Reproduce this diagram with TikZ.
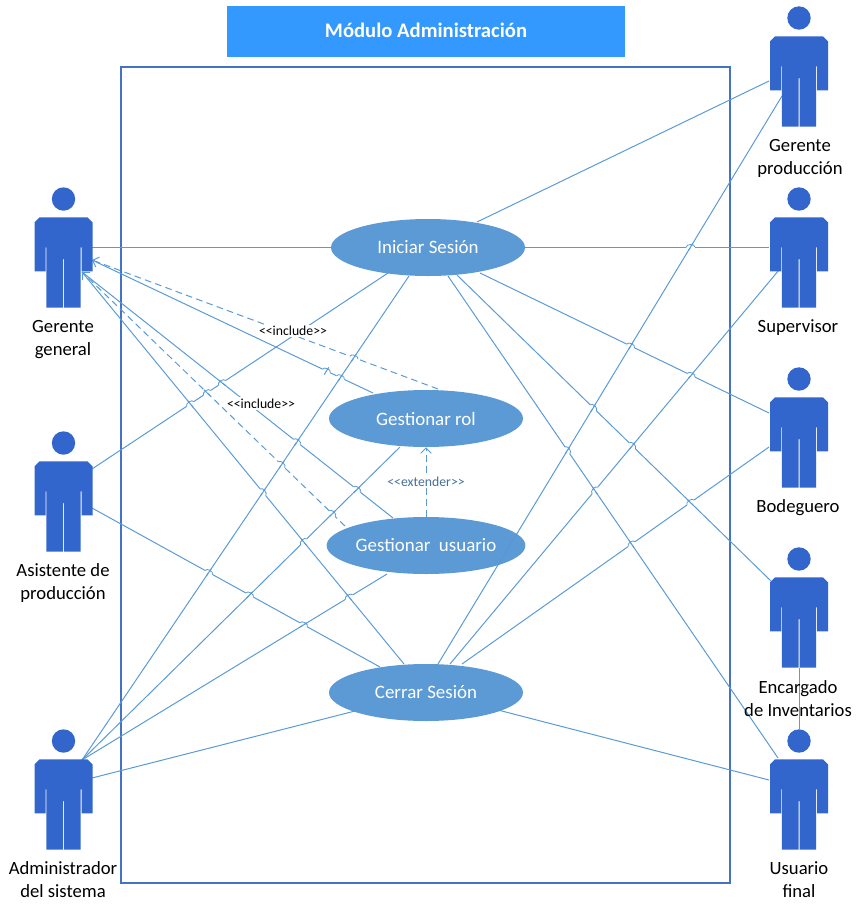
\documentclass[tikz,border=0pt]{standalone}
\usepackage{fontspec}
\setmainfont{Carlito}
\usepackage{xcolor}
\usetikzlibrary{calc}
\usetikzlibrary{arrows.meta}
\usetikzlibrary{shapes.geometric}
\definecolor{wirecol}{HTML}{5B9BD5}
\definecolor{casecol}{HTML}{5596D3}
\definecolor{framecol}{HTML}{4472C4}
\definecolor{actorcol}{HTML}{3366CC}
\definecolor{titlecol}{HTML}{3399FF}
\definecolor{extcol}{HTML}{44709D}
\tikzset{
  wire/.style = {wirecol, line width = .75pt},
  dashwire/.style = {wire, dash pattern = on 5pt off 3.2pt, -{Straight Barb[length = 4pt, width = 8pt]}},
  usecase/.style = {ellipse, fill = casecol, fill opacity = .96, text opacity = 1, text = white, inner sep = 0, minimum width = 145.5pt, minimum height = 42.75pt, font = \fontsize{14.2}{16}\selectfont},
  actorlabel/.style = {align = center, font = \fontsize{14}{17.3}\selectfont},
  smalllabel/.style = {fill = white, inner sep = 1pt, font = \fontsize{10.3}{12}\selectfont},
  actor/.pic = {
    \fill[actorcol] (0, 0) circle [radius = 11.7];
    \fill[actorcol] (-24, 18.3) -- (24, 18.3) -- (29, 23.3) -- (29, 72.3) -- (18, 72.3) -- (18, 48.3) -- (17.2, 48.3) -- (17.2, 108.7) -- (.5, 108.7) -- (.5, 60) -- (-.5, 60) -- (-.5, 108.7) -- (-17.2, 108.7) -- (-17.2, 48.3) -- (-18, 48.3) -- (-18, 72.3) -- (-29, 72.3) -- (-29, 23.3) -- cycle;
  }
}
\newcommand{\linehop}[4]{
  \coordinate (hop) at (intersection of #1--#2 and #3--#4);
  \draw[white, line width = 1.4pt] ($(hop)!3.2pt!(#1)$) -- ($(hop)!3.2pt!(#2)$);
  \draw[wire] ($(hop)!3.2pt!(#3)$) -- ($(hop)!3.2pt!(#4)$);
  \draw[wire, line width = .6pt] ($(hop)!3.2pt!(#1)$) to[bend left = 90] ($(hop)!3.2pt!(#2)$);
}

\begin{document}
\begin{tikzpicture}[x = .75pt, y = -.75pt]
  \useasboundingbox (0, 0) rectangle (861, 904);
  \fill[titlecol] (227, 6) rectangle (625, 57);
  \node (title) at (426, 30.5) [white, font = \fontsize{15.5}{18}\selectfont\bfseries] {Módulo Administración};
  \draw[framecol, line width = 1.9pt] (121, 67) rectangle (730, 883);
  \foreach \name/\x/\y in {ggA/92/247, ggB/92/260, ggC/82/272, asiA/92/469, asiB/92/508, admA/82/760, admB/92/778,
      proA/769/81, proB/782/96, supA/769/247, supB/779/270, bodA/769/413, bodB/769/447, encA/771/581, encB/799/668,
      usrA/778/758, usrB/769/780, usrC/799/729, iniA/331/247, iniB/388/273, iniC/409/276, iniD/477/222, iniE/480/273,
      iniF/457/275, iniG/448/276, iniH/525/247, rolA/373/393, rolB/400/447, rolC/438/389, usuA/393/518, usuB/387/574,
      usuC/345/526, cerA/404/664, cerB/380/667, cerC/355/711, cerD/438/664, cerE/450/664, cerF/462/664, cerG/498/710}
    \coordinate (\name) at (\x, \y);
  \foreach \a/\b in {ggA/iniA, ggB/rolA, ggC/usuA, ggC/cerA, asiA/iniB, asiB/cerB, admA/iniC, admA/rolB, admA/usuB, admB/cerC,
      iniD/proA, cerD/proB, iniH/supA, cerE/supB, iniE/bodA, cerF/bodB, iniF/encA, iniG/usrA, cerG/usrB, encB/usrC}
    \draw[wire] (\a) -- (\b);
  \draw[dashwire] (rolC) -- (ggB);
  \draw[dashwire] (usuC) -- (ggC);
  \node[usecase] (ini) at (428, 247.5) {Iniciar Sesión};
  \node[usecase] (rol) at (426, 418.5) {Gestionar rol};
  \node[usecase] (usu) at (426, 545.5) {Gestionar\ \ usuario};
  \node[usecase] (cer) at (426, 692.5) {Cerrar Sesión};
  \draw[dashwire] (usu.north) -- (rol.south);
  \linehop{ggB}{rolA}{admA}{iniB}
  \linehop{asiA}{iniB}{ggC}{usuA}
  \linehop{asiA}{iniB}{usuC}{ggC}
  \linehop{asiA}{iniB}{ggC}{cerA}
  \linehop{ggB}{rolC}{admA}{iniC}
  \linehop{ggB}{rolA}{admA}{iniC}
  \linehop{ggC}{usuA}{admA}{iniC}
  \linehop{ggC}{usuA}{admA}{rolB}
  \linehop{ggC}{usuC}{admA}{rolB}
  \linehop{ggC}{usuC}{admA}{iniC}
  \linehop{ggC}{cerA}{admA}{iniC}
  \linehop{admA}{rolB}{ggC}{cerA}
  \linehop{admA}{usuB}{ggC}{cerA}
  \linehop{asiB}{cerB}{admA}{iniC}
  \linehop{asiB}{cerB}{admA}{rolB}
  \linehop{asiB}{cerB}{admA}{usuB}
  \linehop{iniH}{supA}{cerD}{proB}
  \linehop{iniE}{bodA}{cerD}{proB}
  \linehop{iniE}{bodA}{cerE}{supB}
  \linehop{iniF}{encA}{cerD}{proB}
  \linehop{iniF}{encA}{cerE}{supB}
  \linehop{iniG}{usrA}{cerD}{proB}
  \linehop{cerE}{supB}{iniG}{usrA}
  \linehop{cerF}{bodB}{iniF}{encA}
  \linehop{cerF}{bodB}{iniG}{usrA}
  \node[smalllabel] (inc1) at (293, 331) {<{}<include>{}>};
  \node[smalllabel] (inc2) at (261, 403.5) {<{}<include>{}>};
  \node[smalllabel, text = extcol] (ext) at (426, 482) {<{}<extender>{}>};
  \foreach \name/\x/\y in {gg/63.5/199, asi/63.5/443, adm/63.5/741, pro/799/18, sup/799/199, bod/799/379, enc/799/559, usr/799/741}
    \pic (\name) at (\x, \y) {actor};
  \node[actorlabel] (ggtxt) at (63, 339.5) {Gerente\\general};
  \node[actorlabel] (asitxt) at (63, 583) {Asistente de\\producción};
  \node[actorlabel] (admtxt) at (63, 880) {Administrador\\del sistema};
  \node[actorlabel] (protxt) at (800, 158.5) {Gerente\\producción};
  \node[actorlabel] (suptxt) at (798, 328) {Supervisor};
  \node[actorlabel] (bodtxt) at (798, 508) {Bodeguero};
  \node[actorlabel] (enctxt) at (798, 699) {Encargado\\de Inventarios};
  \node[actorlabel] (usrtxt) at (799, 880) {Usuario\\final};
\end{tikzpicture}
\end{document}
